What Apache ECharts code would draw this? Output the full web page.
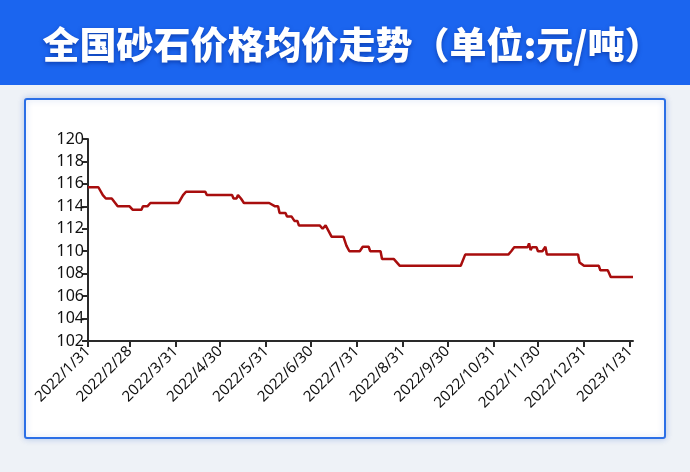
<!DOCTYPE html>
<html>
<head>
<meta charset="utf-8">
<script src="https://cdn.jsdelivr.net/npm/echarts@6/dist/echarts.min.js"></script>
<style>
html,body{margin:0;padding:0;width:690px;height:472px;overflow:hidden;}
#c{width:690px;height:472px;}
</style>
</head>
<body>
<div id="c"></div>
<script>
// ---- data ----
var titleText = '全国砂石价格均价走势（单位:元/吨）';
var tickDates = ['2022/1/31','2022/2/28','2022/3/31','2022/4/30','2022/5/31','2022/6/30','2022/7/31','2022/8/31','2022/9/30','2022/10/31','2022/11/30','2022/12/31','2023/1/31'];
var yTicks = [102,104,106,108,110,112,114,116,118,120];
var dates = ['2022-01-31','2022-02-07','2022-02-10','2022-02-12','2022-02-16','2022-02-20','2022-02-28','2022-03-02','2022-03-08','2022-03-09','2022-03-12','2022-03-14','2022-04-02','2022-04-05','2022-04-07','2022-04-20','2022-04-21','2022-05-08','2022-05-09','2022-05-11','2022-05-12','2022-05-14','2022-05-16','2022-06-02','2022-06-06','2022-06-08','2022-06-09','2022-06-13','2022-06-14','2022-06-17','2022-06-19','2022-06-21','2022-06-22','2022-07-06','2022-07-08','2022-07-10','2022-07-14','2022-07-22','2022-07-24','2022-07-26','2022-08-02','2022-08-04','2022-08-08','2022-08-09','2022-08-16','2022-08-17','2022-08-25','2022-08-29','2022-10-09','2022-10-12','2022-11-10','2022-11-12','2022-11-14','2022-11-23','2022-11-24','2022-11-25','2022-11-26','2022-11-29','2022-11-30','2022-12-03','2022-12-05','2022-12-06','2022-12-27','2022-12-28','2022-12-29','2022-12-31','2023-01-10','2023-01-11','2023-01-16','2023-01-18','2023-02-02'];
var prices = [115.7,115.7,115.0,114.7,114.7,114.0,114.0,113.7,113.7,114.0,114.0,114.3,114.3,115.0,115.3,115.3,115.0,115.0,114.7,114.7,115.0,114.7,114.3,114.3,114.0,114.0,113.4,113.4,113.1,113.1,112.7,112.7,112.3,112.3,112.0,112.3,111.3,111.3,110.5,110.0,110.0,110.4,110.4,110.0,110.0,109.3,109.3,108.7,108.7,109.7,109.7,110.0,110.35,110.35,110.7,110.1,110.35,110.35,110.0,110.0,110.4,109.7,109.7,109.0,109.0,108.7,108.7,108.3,108.3,107.7,107.7];

function toTs(s){ var p = s.split(/[-\/]/); return Date.UTC(+p[0], +p[1]-1, +p[2]); }
var tickTs = tickDates.map(toTs);
var seriesData = dates.map(function(d,i){ return [toTs(d), prices[i]]; });

var chart = echarts.init(document.getElementById('c'), null, {renderer:'canvas'});
var option = {
  backgroundColor: '#eef2f7',
  animation: false,
  graphic: [
    {type:'rect', z:-10, shape:{x:0,y:0,width:690,height:85}, style:{fill:'#1b65ef'}, silent:true},
    {type:'rect', z:-9, shape:{x:25,y:99,width:640,height:339,r:2}, style:{fill:'#ffffff', stroke:'#2b6fe6', lineWidth:2, shadowBlur:6, shadowColor:'rgba(40,90,200,0.25)'}, silent:true},
    {type:'text', z:10, x:352, y:45, style:{text:titleText, fill:'#ffffff', font:'900 37px "Noto Sans CJK SC"', align:'center', verticalAlign:'middle', textShadowColor:'rgba(0,30,120,0.5)', textShadowBlur:4, textShadowOffsetY:2}, silent:true}
  ],
  grid: {left:88, right:57, top:139, bottom:131, containLabel:false},
  xAxis: {
    type:'value',
    min: toTs('2022-01-31'),
    max: toTs('2023-02-02'),
    splitLine:{show:false},
    axisLine:{show:true, lineStyle:{color:'#2a2a2a', width:2}},
    axisTick:{show:true, customValues: tickTs, length:6, lineStyle:{color:'#2a2a2a', width:2}},
    axisLabel:{
      customValues: tickTs, rotate:45, margin:8, color:'#111', fontSize:15, fontFamily:'"Noto Sans", sans-serif',
      formatter:function(v){ var d=new Date(v); return d.getUTCFullYear()+'/'+(d.getUTCMonth()+1)+'/'+d.getUTCDate(); }
    }
  },
  yAxis: {
    type:'value', min:102, max:120, interval:2,
    splitLine:{show:false},
    axisLine:{show:true, lineStyle:{color:'#2a2a2a', width:2}},
    axisTick:{show:true, length:6, lineStyle:{color:'#2a2a2a', width:2}},
    axisLabel:{color:'#111', fontSize:16, margin:4, fontFamily:'"Noto Sans", sans-serif'}
  },
  series: [{
    type:'line', data: seriesData, showSymbol:false, symbol:'none',
    lineStyle:{color:'#a80d0d', width:2.5}
  }]
};
chart.setOption(option);
</script>
</body>
</html>
